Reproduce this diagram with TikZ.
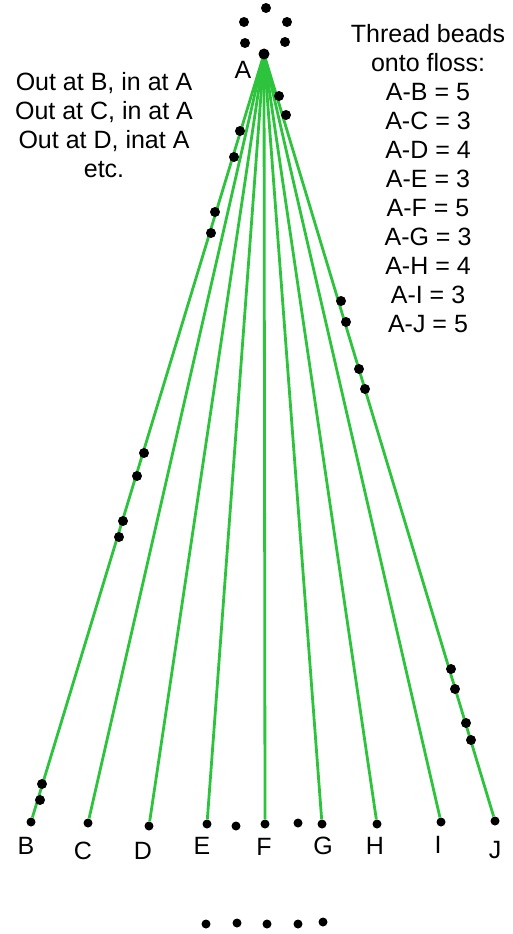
\documentclass[tikz,border=0pt]{standalone}
\usepackage{fontspec}
\setmainfont{Liberation Sans}
\usetikzlibrary{positioning}

\definecolor{floss}{RGB}{45,195,60}

\begin{document}
\begin{tikzpicture}[x=1pt, y=-1pt,
  hole/.style={fill, circle, inner sep=0pt, minimum size=10pt},
  bead/.style={fill, circle, inner sep=0pt, minimum size=10pt},
  lbl/.style={font=\fontsize{25}{29}\selectfont},
  thread/.style={draw=floss, line width=2.8pt}]
\useasboundingbox (0,0) rectangle (513,934);
% top ring of holes
\node[hole] (A) at (264,54) {};
\node[hole] (t1) at (266,8) {};
\node[hole] (t2) at (244,22) {};
\node[hole] (t3) at (287,22) {};
\node[hole] (t4) at (245,43) {};
\node[hole] (t5) at (285,42) {};
\node[lbl] (la) at (243,70) {A};
% bottom row of holes
\node[hole, minimum size=9pt] (B) at (31,822) {};
\node[hole, minimum size=9pt] (C) at (88,823) {};
\node[hole, minimum size=9pt] (D) at (149,826) {};
\node[hole, minimum size=9pt] (E) at (207,824) {};
\node[hole, minimum size=9pt] (F) at (265,824) {};
\node[hole, minimum size=9pt] (G) at (322,824) {};
\node[hole, minimum size=9pt] (H) at (377,824) {};
\node[hole, minimum size=9pt] (I) at (441,822) {};
\node[hole, minimum size=9pt] (J) at (495,821) {};
\node[hole, minimum size=9pt] (ef) at (236,826) {};
\node[hole, minimum size=9pt] (fg) at (298,823) {};
\node[lbl] (lb) at (26,846) {B};
\node[lbl] (lc) at (83,851) {C};
\node[lbl] (ld) at (143,851) {D};
\node[lbl] (le) at (202,846) {E};
\node[lbl] (lf) at (264,847) {F};
\node[lbl] (lg) at (323,846) {G};
\node[lbl] (lh) at (375,846) {H};
\node[lbl] (li) at (438,845) {I};
\node[lbl] (lj) at (495,850) {J};
% last row
\node[hole, minimum size=9pt] (r1) at (206,924) {};
\node[hole, minimum size=9pt] (r2) at (237,923) {};
\node[hole, minimum size=9pt] (r3) at (267,924) {};
\node[hole, minimum size=9pt] (r4) at (298,924) {};
\node[hole, minimum size=9pt] (r5) at (323,922) {};
% floss
\draw[thread] (A.center) -- (B);
\draw[thread] (A.center) -- (C);
\draw[thread] (A.center) -- (D);
\draw[thread] (A.center) -- (E);
\draw[thread] (A.center) -- (F);
\draw[thread] (A.center) -- (G);
\draw[thread] (A.center) -- (H);
\draw[thread] (A.center) -- (I);
\draw[thread] (A.center) -- (J);
\node[hole, minimum size=11pt] at (A) {};
% beads on A-B
\node[bead] (b1) at (240,131) {};
\node[bead] (b2) at (234,157) {};
\node[bead] (b3) at (215,212) {};
\node[bead] (b4) at (211,233) {};
\node[bead] (b5) at (144,453) {};
\node[bead] (b6) at (137,476) {};
\node[bead] (b7) at (123,521) {};
\node[bead] (b8) at (119,537) {};
\node[bead] (b9) at (42,784) {};
\node[bead] (b10) at (40,800) {};
% beads on A-J
\node[bead] (j1) at (279,96) {};
\node[bead] (j2) at (286,115) {};
\node[bead] (j3) at (341,301) {};
\node[bead] (j4) at (346,322) {};
\node[bead] (j5) at (359,369) {};
\node[bead] (j6) at (365,389) {};
\node[bead] (j7) at (451,669) {};
\node[bead] (j8) at (455,689) {};
\node[bead] (j9) at (466,723) {};
\node[bead] (j10) at (471,740) {};
% notes
\node[lbl, align=center] (how) at (104,125)
  {Out at B, in at A\\Out at C, in at A\\Out at D, inat A\\etc.};
\node[lbl, align=center] (count) at (428,179)
  {Thread beads\\onto floss:\\A-B = 5\\A-C = 3\\A-D = 4\\A-E = 3\\A-F = 5\\A-G = 3\\A-H = 4\\A-I = 3\\A-J = 5};
\end{tikzpicture}
\end{document}
